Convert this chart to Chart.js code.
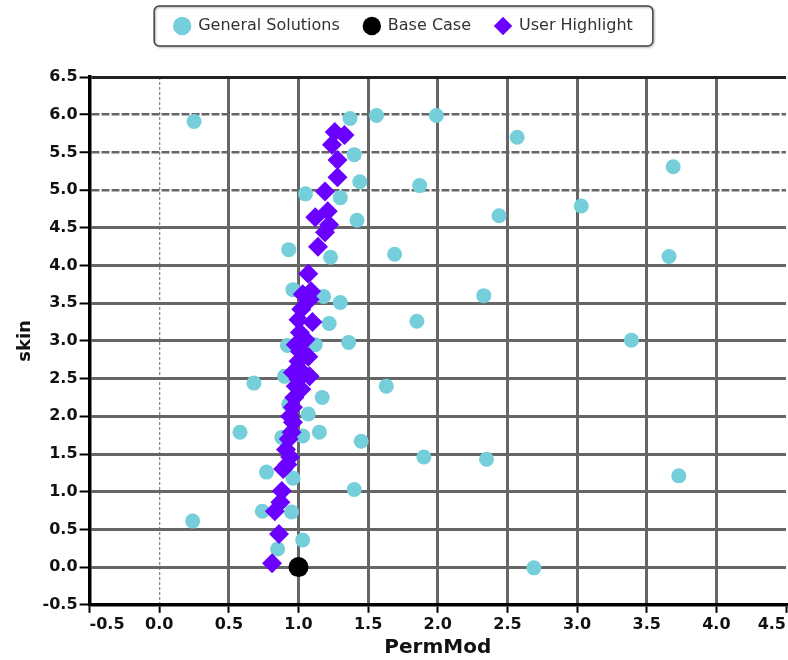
<!DOCTYPE html>
<html>
<head>
<meta charset="utf-8">
<script src="https://cdn.jsdelivr.net/npm/chart.js@4"></script>
<style>
  html, body { margin: 0; padding: 0; background: #fff; overflow: hidden; }
  #wrap { width: 788px; height: 660px; position: relative; }
</style>
</head>
<body>
<div id="wrap"><canvas id="chart"></canvas></div>
<script>
// values
const generalX = [0.25, 1.37, 1.56, 1.99, 2.57, 3.69, 1.40, 1.44, 1.05, 1.87, 1.30, 3.03, 2.44, 1.42, 0.93, 1.23, 1.69, 3.66, 0.96, 2.33, 1.18, 1.30, 1.85, 1.22, 1.36, 1.12, 3.39, 0.92, 0.68, 1.63, 0.90, 1.17, 0.93, 1.07, 0.58, 1.15, 1.03, 0.88, 1.45, 1.90, 2.35, 0.77, 0.96, 3.73, 1.40, 0.74, 0.95, 0.24, 1.03, 0.85, 2.69];
const generalY = [5.91, 5.95, 5.99, 5.99, 5.70, 5.31, 5.47, 5.11, 4.95, 5.06, 4.90, 4.79, 4.66, 4.60, 4.21, 4.11, 4.15, 4.12, 3.68, 3.60, 3.59, 3.51, 3.26, 3.23, 2.98, 2.95, 3.01, 2.94, 2.44, 2.40, 2.53, 2.25, 2.16, 2.03, 1.79, 1.79, 1.74, 1.72, 1.67, 1.46, 1.43, 1.26, 1.18, 1.21, 1.03, 0.74, 0.73, 0.61, 0.36, 0.24, -0.01];

const baseX = [1.0];
const baseY = [0.0];

const userX = [1.26, 1.33, 1.24, 1.28, 1.28, 1.19, 1.21, 1.12, 1.22, 1.19, 1.14, 1.07, 1.09, 1.03, 1.08, 1.02, 1.10, 1.00, 1.01, 1.05, 0.98, 1.01, 1.07, 1.00, 1.03, 0.96, 1.08, 1.00, 0.98, 1.02, 0.97, 0.96, 0.94, 0.96, 0.95, 0.93, 0.91, 0.94, 0.89, 0.92, 0.88, 0.87, 0.83, 0.86, 0.81];
const userY = [5.77, 5.73, 5.60, 5.40, 5.17, 4.98, 4.72, 4.64, 4.54, 4.44, 4.25, 3.89, 3.66, 3.62, 3.55, 3.42, 3.25, 3.28, 3.11, 3.02, 2.95, 2.86, 2.79, 2.73, 2.58, 2.58, 2.53, 2.49, 2.40, 2.36, 2.25, 2.12, 2.00, 1.92, 1.79, 1.70, 1.56, 1.46, 1.30, 1.36, 1.01, 0.86, 0.74, 0.44, 0.05];

const seriesNames = ["General Solutions", "Base Case", "User Highlight"];
const xTitle = "PermMod";
const yTitle = "skin";

const toPoints = (xs, ys) => xs.map((x, i) => ({ x: x, y: ys[i] }));
const near = (a, b) => Math.abs(a - b) < 1e-6;
const isDashedY = (v) => near(v, 5) || near(v, 5.5) || near(v, 6);

Chart.defaults.font.family = "'DejaVu Sans', sans-serif";

// extra room under the legend, and nudge the legend row into place
const legendSpace = {
  id: "legendSpace",
  beforeInit(chart) {
    const fit = chart.legend.fit;
    chart.legend.fit = function () {
      fit.call(this);
      this.height += 27;
    };
  },
  afterLayout(chart) {
    const lg = chart.legend;
    lg.left += 4;
    lg.right += 4;
    lg.top -= 6;
    lg.bottom -= 6;
  },
};

// rounded frame round the legend items
const legendFrame = {
  id: "legendFrame",
  afterDraw(chart) {
    const boxes = chart.legend.legendHitBoxes;
    if (!boxes || !boxes.length) return;
    const first = boxes[0];
    const last = boxes[boxes.length - 1];
    const cy = first.top + first.height / 2;
    const left = first.left - 20;
    const right = last.left + last.width + 20;
    const ctx = chart.ctx;
    ctx.save();
    ctx.shadowColor = "rgba(0,0,0,0.35)";
    ctx.shadowOffsetX = 1;
    ctx.shadowOffsetY = 1;
    ctx.shadowBlur = 2;
    ctx.strokeStyle = "#444";
    ctx.lineWidth = 1.5;
    ctx.beginPath();
    ctx.roundRect(left, cy - 20, right - left, 40, 5);
    ctx.stroke();
    ctx.restore();
  },
};

new Chart(document.getElementById("chart"), {
  type: "scatter",
  data: {
    datasets: [
      {
        label: seriesNames[0],
        data: toPoints(generalX, generalY),
        pointStyle: "circle",
        pointRadius: 7.5,
        pointHoverRadius: 7.5,
        backgroundColor: "#74cfdb",
        borderColor: "#74cfdb",
        borderWidth: 0,
        order: 3,
      },
      {
        label: seriesNames[1],
        data: toPoints(baseX, baseY),
        pointStyle: "circle",
        pointRadius: 10,
        pointHoverRadius: 10,
        backgroundColor: "#000",
        borderColor: "#000",
        borderWidth: 0,
        order: 1,
      },
      {
        label: seriesNames[2],
        data: toPoints(userX, userY),
        pointStyle: "rectRot",
        pointRadius: 10,
        pointHoverRadius: 10,
        backgroundColor: "#6a00ff",
        borderColor: "#6a00ff",
        borderWidth: 0,
        order: 2,
      },
    ],
  },
  options: {
    responsive: true,
    maintainAspectRatio: false,
    animation: false,
    layout: { autoPadding: false, padding: { left: 11, right: 0, top: 0, bottom: 0 } },
    plugins: {
      tooltip: { enabled: false },
      legend: {
        position: "top",
        labels: {
          usePointStyle: true,
          boxHeight: 13,
          padding: 24,
          color: "#333",
          font: { size: 16 },
          sort: (a, b) => a.datasetIndex - b.datasetIndex,
        },
      },
    },
    scales: {
      x: {
        type: "linear",
        min: -0.5,
        max: 4.5,
        title: {
          display: true,
          text: xTitle,
          color: "#111",
          font: { size: 20, weight: "bold" },
          padding: { top: 0, bottom: 0 },
        },
        ticks: {
          stepSize: 0.5,
          autoSkip: false,
          maxRotation: 0,
          align: "inner",
          padding: 2,
          color: "#111",
          font: { size: 16, weight: "bold" },
          callback: (v) => Number(v).toFixed(1),
        },
        grid: {
          color: (c) => {
            if (!c.tick) return "#666";
            if (near(c.tick.value, 0)) return "#8a8a8a";
            if (near(c.tick.value, 4.5)) return "rgba(0,0,0,0)";
            return "#666";
          },
          lineWidth: (c) => (c.tick && near(c.tick.value, 0) ? 1.3 : 3),
          tickColor: "#000",
          tickLength: 8,
          tickWidth: 2,
        },
        border: {
          display: true,
          color: "#000",
          width: 3.5,
          dash: (c) => (c.tick && near(c.tick.value, 0) ? [3, 2] : []),
        },
      },
      y: {
        type: "linear",
        min: -0.5,
        max: 6.5,
        title: {
          display: true,
          text: yTitle,
          color: "#111",
          font: { size: 18, weight: "bold" },
          padding: 4,
        },
        ticks: {
          stepSize: 0.5,
          autoSkip: false,
          padding: 2,
          color: "#111",
          font: { size: 16, weight: "bold" },
          callback: (v) => Number(v).toFixed(1),
        },
        grid: {
          color: (c) => {
            if (!c.tick) return "#666";
            if (near(c.tick.value, 6.5)) return "#222";
            return "#666";
          },
          lineWidth: (c) => (c.tick && isDashedY(c.tick.value) ? 2.5 : 3),
          tickColor: "#000",
          tickLength: 10,
          tickWidth: 2,
        },
        border: {
          display: true,
          color: "#000",
          width: 3.5,
          dash: (c) => (c.tick && isDashedY(c.tick.value) ? [8, 2] : []),
        },
      },
    },
  },
  plugins: [legendSpace, legendFrame],
});
</script>
</body>
</html>
